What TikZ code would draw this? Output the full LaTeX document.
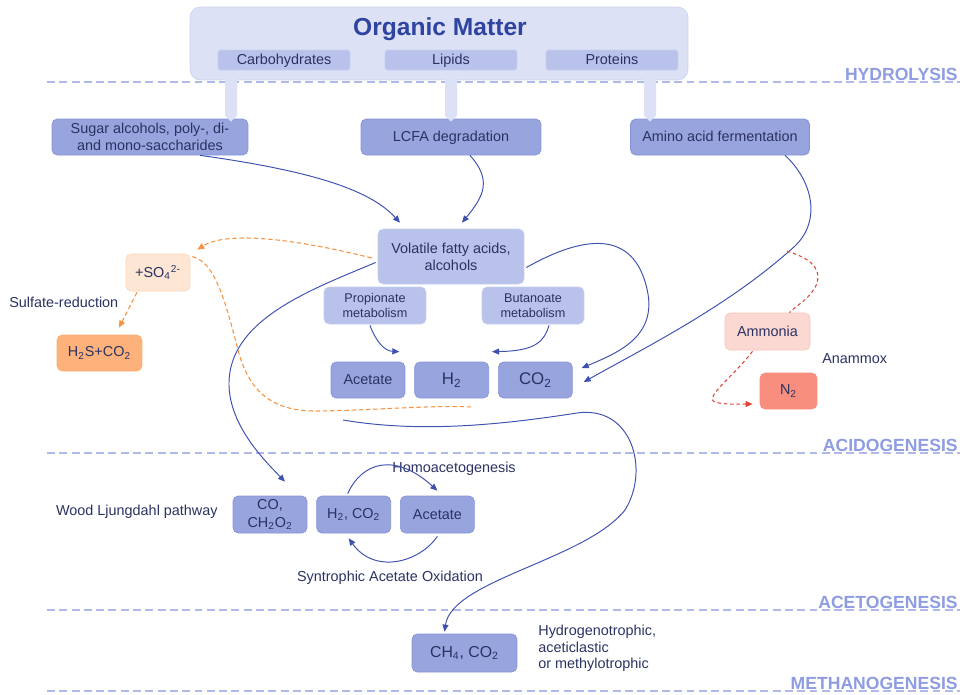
\documentclass[tikz,border=0pt]{standalone}
\usepackage{fontspec}
\setmainfont{Liberation Sans}
\usepackage{tikz}
\usetikzlibrary{positioning,arrows.meta,calc}
\definecolor{ink}{HTML}{2B3262}
\definecolor{titleblue}{HTML}{2E44A0}
\definecolor{stagec}{HTML}{8E9CE2}
\definecolor{phasec}{HTML}{B0BAEA}
\definecolor{boxfill}{HTML}{97A4DE}
\definecolor{boxline}{HTML}{8593D6}
\definecolor{lightfill}{HTML}{B8C2EA}
\definecolor{lightline}{HTML}{C6CEEF}
\definecolor{orgfill}{HTML}{DCE1F5}
\definecolor{orgline}{HTML}{CBD2EF}
\definecolor{flowc}{HTML}{3E50B0}
\definecolor{orange}{HTML}{F7913D}
\definecolor{peach}{HTML}{FDE6D4}
\definecolor{apricot}{HTML}{FDB27B}
\definecolor{brick}{HTML}{D94A35}
\definecolor{blush}{HTML}{FBD9D2}
\definecolor{salmon}{HTML}{F78E7E}
\tikzset{
  box/.style={draw=boxline,fill=boxfill,rounded corners=3pt,inner sep=2pt,align=center,text=ink,font=\fontsize{8.2}{9.8}\selectfont},
  lightbox/.style={box,draw=lightline,fill=lightfill},
  orgbox/.style={draw=orgline,fill=orgfill,rounded corners=6pt},
  subbox/.style={lightbox,rounded corners=1.5pt,minimum width=2.64cm,minimum height=0.4cm,text depth=0.25ex},
  peachbox/.style={box,draw=peach!80!orange,fill=peach},
  apricotbox/.style={box,draw=apricot!90!orange,fill=apricot},
  blushbox/.style={box,draw=blush!85!brick,fill=blush},
  salmonbox/.style={box,draw=salmon,fill=salmon},
  plain/.style={align=left,text=ink,inner sep=0pt,font=\fontsize{8.2}{9.4}\selectfont},
  titletext/.style={font=\fontsize{14}{16}\selectfont\bfseries,text=titleblue},
  stage/.style={font=\fontsize{10}{11}\selectfont\bfseries,text=stagec,inner sep=0pt},
  phase/.style={draw=phasec,line width=0.6pt,dash pattern=on 4.5pt off 2.5pt},
  stem/.style={fill=orgfill},
  flow/.style={-{Triangle[length=4pt,width=3.4pt]},draw=flowc,line width=0.55pt},
  orangeflow/.style={-{Triangle[length=4pt,width=3.4pt]},draw=orange,line width=0.6pt,dash pattern=on 2.5pt off 1.6pt},
  redflow/.style={-{Triangle[length=4pt,width=3.4pt]},draw=brick,line width=0.6pt,dash pattern=on 2pt off 1.6pt}}

\begin{document}
\begin{tikzpicture}[x=0.02cm,y=-0.02cm,node distance=0.18cm]
  \useasboundingbox (0,0) rectangle (968,694);
  % stage borders
  \foreach \py/\pname in {82/HYDROLYSIS,453/ACIDOGENESIS,610/ACETOGENESIS,691/METHANOGENESIS}{
    \draw[phase] (47,\py) -- (960,\py);
    \node[stage,anchor=base east] (lbl\pname) at (958,\py-2) {\pname};
  }
  % organic matter
  \node[orgbox,minimum width=9.96cm,minimum height=1.46cm] (org) at (439,43.5) {};
  \node[titletext] (orgtitle) at (440,29) {Organic Matter};
  \node[subbox] (carb) at (284,60) {Carbohydrates};
  \node[subbox] (lip) at (451,60) {Lipids};
  \node[subbox] (prot) at (612,60) {Proteins};
  % hydrolysis products
  \node[box,minimum width=3.92cm,minimum height=0.72cm] (sugar) at (150,137) {Sugar alcohols, poly-, di-\\and mono-saccharides};
  \node[box,text depth=0.25ex,minimum width=3.6cm,minimum height=0.72cm] (lcfa) at (451,137) {LCFA degradation};
  \node[box,text depth=0.25ex,minimum width=3.58cm,minimum height=0.72cm] (amino) at (720,137) {Amino acid fermentation};
  \foreach \sx/\tgt [count=\i] in {231/sugar,451/lcfa,650/amino}{
    \coordinate (stem\i) at (\sx,79);
    \fill[stem] ($(stem\i)+(-6,0)$) -- ($(stem\i)+(6,0)$) -- ($(stem\i |- \tgt.north)+(6,-3)$)
      -- ($(stem\i |- \tgt.north)+(0,3)$) -- ($(stem\i |- \tgt.north)+(-6,-3)$) -- cycle;
  }
  % acidogenesis
  \node[lightbox,minimum width=2.92cm,minimum height=1.1cm] (vfa) at (451,256.5) {Volatile fatty acids,\\alcohols};
  \node[lightbox,font=\fontsize{7.2}{8.8}\selectfont,minimum width=2.04cm,minimum height=0.74cm] (prop) at (375,305.5) {Propionate\\metabolism};
  \node[lightbox,font=\fontsize{7.2}{8.8}\selectfont,minimum width=2.04cm,minimum height=0.74cm] (buta) at (533,305.5) {Butanoate\\metabolism};
  \node[box,minimum width=1.48cm,minimum height=0.72cm] (acet) at (368,380) {Acetate};
  \node[box,font=\fontsize{9.6}{11}\selectfont,minimum width=1.48cm,minimum height=0.72cm,right=of acet] (htwo) {H\textsubscript{2}};
  \node[box,font=\fontsize{9.6}{11}\selectfont,minimum width=1.48cm,minimum height=0.72cm,right=of htwo] (co2) {CO\textsubscript{2}};
  % sulfate and ammonia
  \node[peachbox,minimum width=1.28cm,minimum height=0.74cm] (so4) at (158,272.5) {+SO\textsubscript{4}\textsuperscript{2-}};
  \node[plain,anchor=west] (sulfred) at (9,302) {Sulfate-reduction};
  \node[apricotbox,minimum width=1.7cm,minimum height=0.72cm] (h2s) at (99.5,353) {H\textsubscript{2}S+CO\textsubscript{2}};
  \node[blushbox,minimum width=1.7cm,minimum height=0.74cm] (ammonia) at (767.5,331.5) {Ammonia};
  \node[plain,anchor=west] (anammox) at (822,359) {Anammox};
  \node[salmonbox,minimum width=1.14cm,minimum height=0.72cm] (n2) at (788.5,391) {N\textsubscript{2}};
  % acetogenesis
  \node[box,minimum width=1.48cm,minimum height=0.74cm] (co) at (270,514.5) {CO,\\CH\textsubscript{2}O\textsubscript{2}};
  \node[box,minimum width=1.48cm,minimum height=0.74cm,right=of co] (h2co2) {H\textsubscript{2}, CO\textsubscript{2}};
  \node[box,minimum width=1.48cm,minimum height=0.74cm,right=of h2co2] (acet2) {Acetate};
  \node[plain,anchor=east] (wood) at (218,512) {Wood Ljungdahl pathway};
  \node[plain,anchor=west] (homo) at (392,469) {Homoacetogenesis};
  \node[plain] (sao) at (390,578) {Syntrophic Acetate Oxidation};
  % methanogenesis
  \node[box,font=\fontsize{9}{11}\selectfont,minimum width=2.1cm,minimum height=0.76cm] (ch4) at (464.5,653) {CH\textsubscript{4}, CO\textsubscript{2}};
  \node[plain,anchor=north west] (routes) at (538,625) {Hydrogenotrophic,\\aceticlastic\\or methylotrophic};
  % connectors
  \coordinate (methsrc) at (343,420);
  \coordinate (sulfend) at (473,407);
  \coordinate (nh3src) at (787,251);
  \draw[flow] ($(sugar.south)+(50,0)$) .. controls (320,172) and (372,192) .. ($(vfa.north)+(-51,-6)$);
  \draw[flow] ($(lcfa.south)+(19,0)$) .. controls (492,180) and (484,196) .. ($(vfa.north)+(11,-6)$);
  \draw[flow] ($(vfa.east)+(2,11)$) .. controls (575,240) and (630,225) .. (646,285)
    .. controls (660,335) and (620,352) .. ($(co2.east)+(9,-12)$);
  \draw[flow] ($(amino.south)+(65,0)$) .. controls (812,180) and (822,220) .. (795,246)
    .. controls (730,305) and (650,345) .. ($(co2.east)+(11,2)$);
  \draw[flow] ($(prop.south)+(-5,1)$) .. controls (376,342) and (385,351) .. ($(acet.north east)+(-6,-10)$);
  \draw[flow] ($(buta.south)+(16,1)$) .. controls (544,342) and (535,351) .. ($(co2.north west)+(-6,-10)$);
  \draw[flow] ($(vfa.west)+(-2,6)$) .. controls (310,290) and (228,320) .. (229,385)
    .. controls (230,425) and (262,458) .. ($(co.north)+(15,-14)$);
  \draw[flow] (methsrc) .. controls (420,433) and (500,425) .. (577,413)
    .. controls (632,405) and (650,470) .. (625,510) .. controls (585,560) and (452,580) .. ($(ch4.north)+(-20,-2)$);
  \draw[flow] ($(h2co2.north)+(-6,-2)$) .. controls (362,462) and (395,452) .. ($(acet2.north)+(0,-5)$);
  \draw[flow] ($(acet2.south)+(0,3)$) .. controls (420,562) and (375,575) .. ($(h2co2.south)+(-5,5)$);
  \draw[orangeflow] ($(vfa.west)+(-6,1.5)$) .. controls (300,240) and (228,230) .. ($(so4.north east)+(7,-4)$);
  \draw[orangeflow,-] ($(so4.north east)+(2,3)$) .. controls (215,262) and (225,300) .. (238,350)
    .. controls (250,395) and (275,412) .. (320,411) .. controls (380,410) and (430,405) .. (sulfend);
  \draw[orangeflow] ($(so4.south)+(-21,1)$) -- ($(h2s.north)+(19.5,-7)$);
  \draw[redflow,-] (nh3src) .. controls (805,257) and (822,265) .. (817,283)
    .. controls (812,298) and (795,306) .. ($(ammonia.north)+(22,0)$);
  \draw[redflow] ($(ammonia.south)+(-15,1)$) .. controls (735,375) and (703,398) .. (715,402)
    .. controls (725,405) and (740,404) .. ($(n2.west)+(-7,13)$);
\end{tikzpicture}
\end{document}
